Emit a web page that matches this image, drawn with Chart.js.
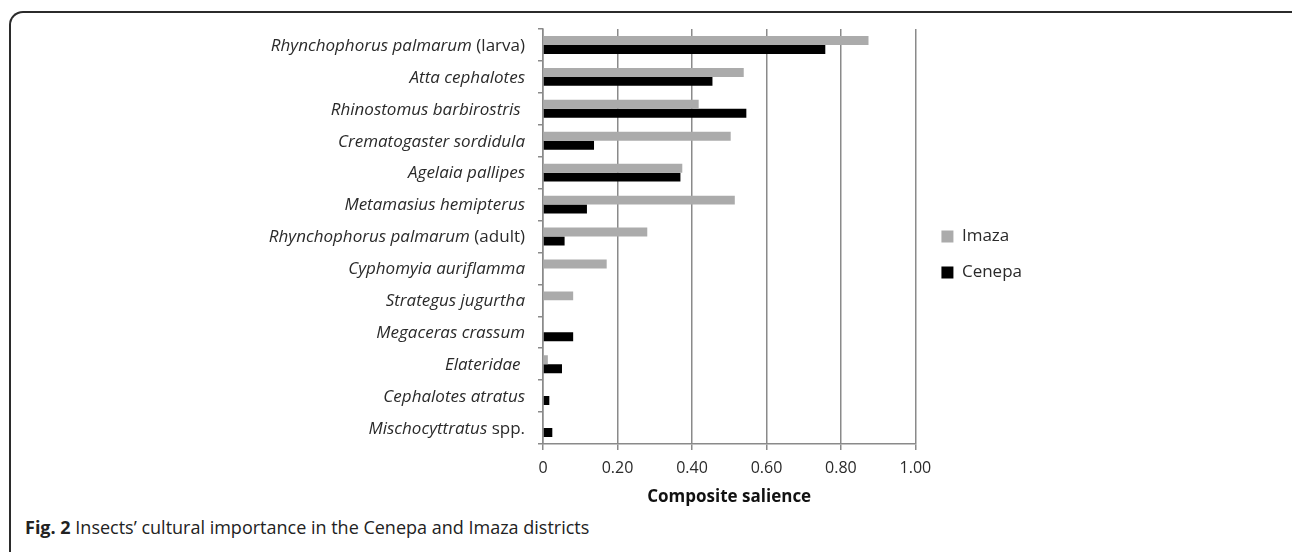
<!DOCTYPE html>
<html>
<head>
<meta charset="utf-8">
<title>Insects' cultural importance</title>
<script src="https://cdn.jsdelivr.net/npm/chart.js@4.4.1/dist/chart.umd.min.js"></script>
<style>
    html, body { margin: 0; padding: 0; background: #fff; }
    body { width: 1292px; height: 552px; position: relative; overflow: hidden; font-family: 'Open Sans', sans-serif; }
    #frame {
        position: absolute; left: 9px; top: 11px; width: 1300px; height: 600px;
        border: 2px solid #2b2b2b; border-bottom: none; border-radius: 14px 14px 0 0;
        box-sizing: border-box;
    }
    #wrap { position: absolute; left: 0; top: 0; width: 1292px; height: 510px; }
    #caption { position: absolute; left: 25px; top: 515px; font-size: 18px; color: #222; white-space: nowrap; }
    #caption b { font-weight: 700; }
</style>
</head>
<body>
<div id="frame"></div>
<div id="wrap"><canvas id="salienceChart"></canvas></div>
<div id="caption"><b>Fig. 2</b> Insects’ cultural importance in the Cenepa and Imaza districts</div>

<script>
// Dane
const categories = [
    'Rhynchophorus palmarum', 'Atta cephalotes', 'Rhinostomus barbirostris ',
    'Crematogaster sordidula', 'Agelaia pallipes', 'Metamasius hemipterus',
    'Rhynchophorus palmarum', 'Cyphomyia auriflamma', 'Strategus jugurtha',
    'Megaceras crassum', 'Elateridae ', 'Cephalotes atratus', 'Mischocyttratus'
];
const suffixes = ['(larva)', '', '', '', '', '', '(adult)', '', '', '', '', '', 'spp.'];
const imaza  = [0.874, 0.539, 0.418, 0.504, 0.374, 0.515, 0.280, 0.171, 0.081, 0, 0.013, 0, 0];
const cenepa = [0.758, 0.455, 0.546, 0.137, 0.369, 0.118, 0.058, 0, 0, 0.081, 0.051, 0.017, 0.025];
const xTickValues = [0, 0.2, 0.4, 0.6, 0.8, 1.0];
const xTickLabels = ['0', '0.20', '0.40', '0.60', '0.80', '1.00'];

Chart.defaults.font.family = "'Open Sans', sans-serif";
Chart.defaults.color = '#2a2a2a';

const gridColor = '#8a8a8a';

// Etykiety gatunków: kursywa + zwykły dopisek
const speciesLabels = {
    id: 'speciesLabels',
    afterDraw(chart) {
        const { ctx, scales: { y } } = chart;
        ctx.save();
        ctx.textBaseline = 'middle';
        ctx.textAlign = 'right';
        ctx.fillStyle = '#2a2a2a';
        categories.forEach((name, i) => {
            const yPos = y.getPixelForValue(i) + 1;
            let x = y.right - 18;
            if (suffixes[i]) {
                ctx.font = "17px 'Open Sans'";
                ctx.fillText(suffixes[i], x, yPos);
                x -= ctx.measureText(' ' + suffixes[i]).width;
            }
            ctx.font = "italic 17px 'Open Sans'";
            ctx.fillText(name, x, yPos);
        });
        ctx.restore();
    }
};

// Legenda troche dalej od osi
const legendShift = {
    id: 'legendShift',
    afterLayout(chart) {
        chart.legend.left += 7;
        chart.legend.right += 7;
    }
};

const labels = categories.map((c, i) => (c.trim() + ' ' + suffixes[i]).trim());

new Chart(document.getElementById('salienceChart'), {
    type: 'bar',
    data: {
        labels: labels,
        datasets: [
            { label: 'Imaza', data: imaza, backgroundColor: '#ababab' },
            { label: 'Cenepa', data: cenepa, backgroundColor: '#000000' }
        ]
    },
    options: {
        indexAxis: 'y',
        responsive: true,
        maintainAspectRatio: false,
        animation: false,
        datasets: { bar: { categoryPercentage: 0.56, barPercentage: 1 } },
        layout: { padding: { top: 29, right: 267, bottom: 0, left: 0 } },
        plugins: {
            tooltip: { enabled: false },
            legend: {
                position: 'right',
                align: 'start',
                fullSize: false,
                title: { display: true, text: ' ', font: { size: 10 }, padding: { top: 168, bottom: 0 } },
                labels: {
                    boxWidth: 12,
                    boxHeight: 12,
                    padding: 19,
                    color: '#2a2a2a',
                    font: { size: 17 }
                }
            }
        },
        scales: {
            y: {
                ticks: { display: false },
                grid: { drawOnChartArea: false, tickLength: 5, color: gridColor, lineWidth: 1.5 },
                border: { color: gridColor, width: 1.5 },
                afterFit(scale) { scale.width = 543; }
            },
            x: {
                min: 0,
                max: 1,
                afterBuildTicks(scale) { scale.ticks = xTickValues.map(v => ({ value: v })); },
                ticks: {
                    padding: 9,
                    color: '#2a2a2a',
                    font: { size: 16 },
                    callback: (value, index) => xTickLabels[index]
                },
                grid: { color: gridColor, lineWidth: 1.5, tickLength: 6 },
                border: { color: gridColor, width: 1.5 },
                title: {
                    display: true,
                    text: 'Composite salience',
                    color: '#111',
                    font: { size: 17, weight: 'bold' },
                    padding: { top: 4, bottom: 3 }
                },
                afterFit(scale) { scale.height = 66; }
            }
        }
    },
    plugins: [speciesLabels, legendShift]
});
</script>
</body>
</html>
